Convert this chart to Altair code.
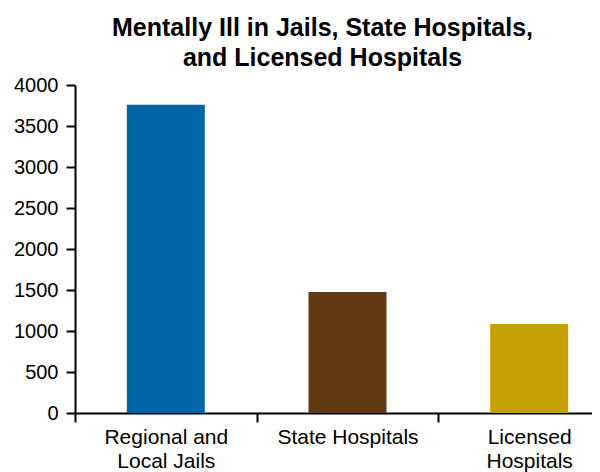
import altair as alt
import pandas as pd

categories = ["Regional and Local Jails", "State Hospitals", "Licensed Hospitals"]
values = [3760, 1475, 1085]
colors = ["#0066A6", "#613913", "#C4A003"]
y_ticks = [0, 500, 1000, 1500, 2000, 2500, 3000, 3500, 4000]

df = pd.DataFrame({"category": categories, "value": values})

label_expr = (
    "datum.value == 'Regional and Local Jails' ? ['Regional and', 'Local Jails'] : "
    "datum.value == 'Licensed Hospitals' ? ['Licensed', 'Hospitals'] : datum.value"
)

font = "Liberation Sans"

chart = alt.Chart(df).mark_bar(size=78).encode(
    x=alt.X(
        "category:N",
        sort=categories,
        scale=alt.Scale(range=[0, 545], paddingInner=0, paddingOuter=0),
        axis=alt.Axis(
            title=None,
            labelAngle=0,
            labelExpr=label_expr,
            labelFont=font,
            labelFontSize=21,
            labelColor="black",
            labelLineHeight=24,
            labelPadding=4,
            tickBand="extent",
            tickSize=9,
            tickWidth=2,
            tickColor="black",
            domainColor="black",
            domainWidth=2,
            grid=False,
        ),
    ),
    y=alt.Y(
        "value:Q",
        scale=alt.Scale(domain=[0, 4000], nice=False),
        axis=alt.Axis(
            title=None,
            values=y_ticks,
            format="d",
            labelFont=font,
            labelFontSize=20,
            labelColor="black",
            labelPadding=8,
            tickSize=9,
            tickWidth=2,
            tickColor="black",
            domainColor="black",
            domainWidth=2,
            grid=False,
        ),
    ),
    color=alt.Color(
        "category:N",
        scale=alt.Scale(domain=categories, range=colors),
        legend=None,
    ),
).properties(
    width=517,
    height=328,
    title=alt.TitleParams(
        text=["Mentally Ill in Jails, State Hospitals,", "and Licensed Hospitals"],
        font=font,
        fontSize=25,
        fontWeight="bold",
        color="black",
        lineHeight=30,
        anchor="middle",
        dx=-11,
        offset=4,
    ),
    autosize=alt.AutoSizeParams(type="none"),
    padding={"left": 67, "top": 77, "right": 0, "bottom": 59},
).configure_view(stroke=None)

chart.save("out.html", embed_options={"renderer": "svg", "actions": False})
